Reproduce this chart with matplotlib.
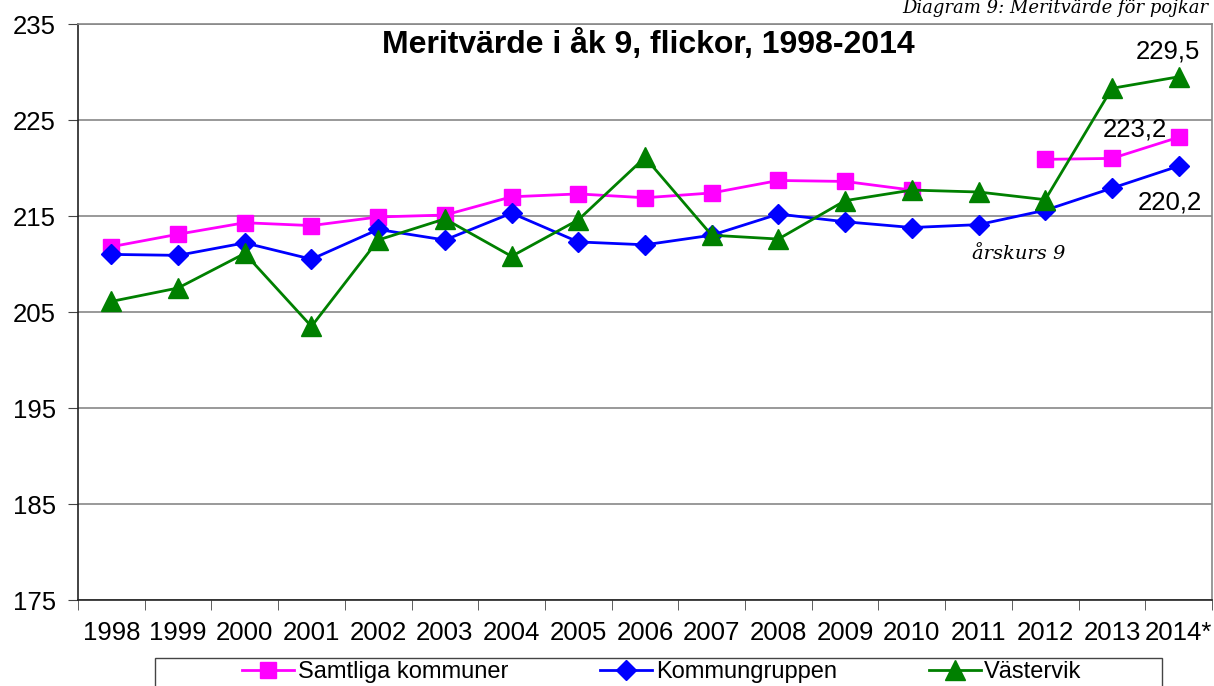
import numpy as np
import matplotlib.pyplot as plt
from matplotlib.patches import Rectangle

# categories and series
years = ['1998', '1999', '2000', '2001', '2002', '2003', '2004', '2005', '2006',
         '2007', '2008', '2009', '2010', '2011', '2012', '2013', '2014*']
samtliga = [211.8, 213.1, 214.3, 214.0, 214.9, 215.1, 217.0, 217.3, 216.9,
            217.4, 218.7, 218.6, 217.7, np.nan, 220.9, 221.0, 223.2]
kommungruppen = [211.0, 210.9, 212.2, 210.5, 213.6, 212.5, 215.3, 212.3, 212.0,
                 213.0, 215.2, 214.4, 213.8, 214.1, 215.6, 217.9, 220.2]
vastervik = [206.1, 207.5, 211.1, 203.5, 212.5, 214.7, 210.8, 214.6, 221.1,
             213.0, 212.6, 216.6, 217.7, 217.5, 216.7, 228.3, 229.5]
yticks = [175, 185, 195, 205, 215, 225, 235]

plt.rcParams['font.family'] = ['Liberation Sans', 'DejaVu Sans']

fig = plt.figure(figsize=(12.14, 6.86), dpi=100)
ax = fig.add_axes([78/1214, 1 - 600/686, (1212 - 78)/1214, (600 - 24)/686])

x = np.arange(len(years))
ax.plot(x, samtliga, color='#FF00FF', lw=2, marker='s', ms=12, label='Samtliga kommuner')
ax.plot(x, kommungruppen, color='#0000FF', lw=2, marker='D', ms=10, label='Kommungruppen')
ax.plot(x, vastervik, color='#008000', lw=2, marker='^', ms=14, label='Västervik')

ax.set_xlim(-0.5, len(years) - 0.5)
ax.set_ylim(175, 235)
ax.set_yticks(yticks)
ax.yaxis.grid(True, color='#888888', lw=1.2)
ax.set_axisbelow(True)
ax.tick_params(axis='y', labelsize=18.5, length=7, color='#444444', pad=9)

ax.set_xticks(x)
ax.set_xticklabels(years)
ax.set_xticks(np.arange(-0.5, len(years)), minor=True)
ax.tick_params(axis='x', which='major', length=0, labelsize=18.5, pad=15)
ax.tick_params(axis='x', which='minor', length=7, color='#444444', direction='out')

for s in ['top', 'right']:
    ax.spines[s].set_color('#888888')
    ax.spines[s].set_linewidth(1.2)
for s in ['left', 'bottom']:
    ax.spines[s].set_color('#222222')
    ax.spines[s].set_linewidth(1.2)

ax.text(8.05, 232.9, 'Meritvärde i åk 9, flickor, 1998-2014',
        ha='center', va='center', fontsize=23, fontweight='bold')

# value labels at the last year
ax.text(15.84, 232.1, '229,5', ha='center', va='center', fontsize=18.5)
ax.text(15.35, 224.0, '223,2', ha='center', va='center', fontsize=18.5)
ax.text(15.87, 216.4, '220,2', ha='center', va='center', fontsize=18.5)

ax.text(13.6, 211.0, 'årskurs 9', ha='center', va='center', fontsize=14,
        family=['DejaVu Serif'], style='italic')
fig.text(1208/1214, 1 - 8/686, 'Diagram 9: Meritvärde för pojkar', ha='right', va='center',
         fontsize=13, family=['DejaVu Serif'], style='italic')

# legend box, clipped by the figure bottom
fig.patches.append(Rectangle((155/1214, -0.05), (1162 - 155)/1214, 0.05 + 1 - 658/686,
                             transform=fig.transFigure, fill=False, ec='#444444', lw=1))
fig.legend(loc='center', bbox_to_anchor=(662/1214, 1 - 672/686), ncol=3, frameon=False,
           fontsize=17, handlelength=2.2, handletextpad=0.15, columnspacing=3.9,
           borderpad=0)

fig.savefig('out.png', dpi=100)
